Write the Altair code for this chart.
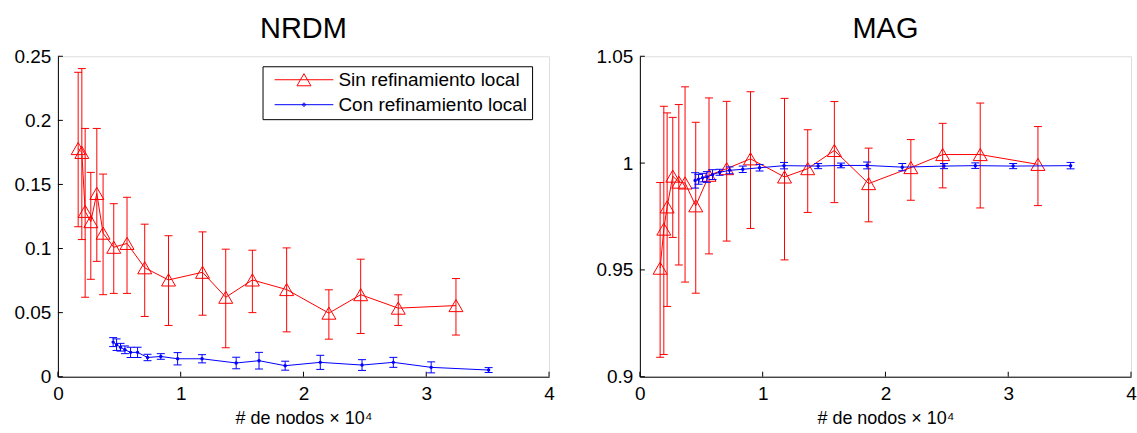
import altair as alt
import pandas as pd

# Número de nodos (en unidades de 10^4) de cada serie
x_sin = [0.165, 0.195, 0.222, 0.268, 0.317, 0.368, 0.455, 0.563, 0.707, 0.901,
         1.178, 1.367, 1.584, 1.863, 2.207, 2.466, 2.772, 3.242]
x_con = [0.45, 0.478, 0.51, 0.546, 0.592, 0.649, 0.73, 0.838, 0.975, 1.174,
         1.452, 1.638, 1.851, 2.137, 2.477, 2.732, 3.04, 3.508]

# NRDM: media y extremos de la barra de error
nrdm_sin = [0.178, 0.175, 0.129, 0.121, 0.143, 0.112, 0.101, 0.104, 0.085, 0.0755,
            0.0815, 0.062, 0.0755, 0.068, 0.0496, 0.064, 0.0535, 0.0555]
nrdm_sin_lo = [0.117, 0.107, 0.062, 0.076, 0.090, 0.064, 0.065, 0.065, 0.047, 0.040,
               0.048, 0.0226, 0.050, 0.035, 0.0293, 0.0337, 0.040, 0.0325]
nrdm_sin_hi = [0.2375, 0.2404, 0.1937, 0.1594, 0.1937, 0.1581, 0.135, 0.140, 0.119, 0.110,
               0.113, 0.0995, 0.0987, 0.1005, 0.0678, 0.0917, 0.0639, 0.0766]
nrdm_con = [0.027, 0.025, 0.023, 0.021, 0.019, 0.019, 0.015, 0.0158, 0.014, 0.014,
            0.0107, 0.0125, 0.0086, 0.0112, 0.0091, 0.0112, 0.0073, 0.0052]
nrdm_con_err = [0.0035, 0.0045, 0.003, 0.003, 0.004, 0.004, 0.0025, 0.0022, 0.0048, 0.0032,
                0.0045, 0.0065, 0.0035, 0.0055, 0.0042, 0.0039, 0.0043, 0.0019]

# MAG: media y extremos de la barra de error
mag_sin = [0.9508, 0.9691, 0.9795, 0.9939, 0.9911, 0.9907, 0.9800, 0.9943, 0.9974, 1.002,
           0.9935, 0.9974, 1.0059, 0.9904, 0.9979, 1.004, 1.004, 0.9994]
mag_sin_lo = [0.9091, 0.9104, 0.9329, 0.9652, 0.9523, 0.9443, 0.9391, 0.9575, 0.9635, 0.9694,
              0.9547, 0.9769, 0.9815, 0.9725, 0.9826, 0.9884, 0.979, 0.9801]
mag_sin_hi = [0.9909, 1.0266, 1.0235, 1.0214, 1.0274, 1.0357, 1.0191, 1.0305, 1.0289, 1.0334,
              1.0303, 1.0156, 1.0288, 1.007, 1.011, 1.0186, 1.0281, 1.0171]
mag_con = [0.9919, 0.9924, 0.9932, 0.9935, 0.9946, 0.9957, 0.9966, 0.9971, 0.9978, 0.9988,
           0.9986, 0.9989, 0.9989, 0.9981, 0.9986, 0.9988, 0.9986, 0.9988]
mag_con_err = [0.0036, 0.0023, 0.002, 0.0025, 0.0023, 0.0014, 0.0016, 0.0015, 0.0015, 0.0015,
               0.0012, 0.0011, 0.0016, 0.0017, 0.0012, 0.0013, 0.0012, 0.0015]

x_ticks = [0, 1, 2, 3, 4]
nrdm_ticks = [0, 0.05, 0.1, 0.15, 0.2, 0.25]
mag_ticks = [0.9, 0.95, 1, 1.05]

series = ["Sin refinamiento local", "Con refinamiento local"]
colors = ["#ff0000", "#0000ff"]

FONT = "Liberation Sans"
W, H = 492, 321
TICK = 5  # longitud de las marcas de graduación (hacia dentro)

# Símbolos de la leyenda: segmento de línea con el marcador en el centro
legend_shapes = [
    "M-4.2,0H4.2M0,-0.866L-1,0.866L1,0.866Z",
    "M-4.2,0H4.2M-0.22,0A0.22,0.22,0,1,1,0.22,0A0.22,0.22,0,1,1,-0.22,0"
    "M-0.08,0A0.08,0.08,0,1,1,0.08,0A0.08,0.08,0,1,1,-0.08,0",
]


def panel(name, y_ticks, sin_y, sin_lo, sin_hi, con_y, con_err, with_legend):
    sin_df = pd.DataFrame({"x": x_sin, "y": sin_y, "lo": sin_lo, "hi": sin_hi})
    con_df = pd.DataFrame({
        "x": x_con,
        "y": con_y,
        "lo": [v - e for v, e in zip(con_y, con_err)],
        "hi": [v + e for v, e in zip(con_y, con_err)],
    })

    x_scale = alt.Scale(domain=[x_ticks[0], x_ticks[-1]], nice=False, zero=False)
    y_scale = alt.Scale(domain=[y_ticks[0], y_ticks[-1]], nice=False, zero=False)
    x_axis = alt.Axis(
        values=x_ticks, format="~g", title="# de nodos × 10⁴", ticks=False, grid=False,
        domainColor="black", domainWidth=1, labelPadding=8, labelFlush=False,
        labelFont=FONT, labelFontSize=19, labelColor="black",
        titleFont=FONT, titleFontSize=18, titleFontWeight="normal", titleColor="black",
        titlePadding=6,
    )
    y_axis = alt.Axis(
        values=y_ticks, format="~g", title=None, ticks=False, grid=False,
        domainColor="black", domainWidth=1, labelPadding=7, labelFlush=False,
        labelFont=FONT, labelFontSize=19, labelColor="black",
    )

    def X(f="x"):
        return alt.X(f"{f}:Q", scale=x_scale, axis=x_axis)

    def Y(f="y"):
        return alt.Y(f"{f}:Q", scale=y_scale, axis=y_axis)

    layers = []
    for df, color, is_sin in ((sin_df, colors[0], True), (con_df, colors[1], False)):
        base = alt.Chart(df)
        layers.append(base.mark_rule(color=color, strokeWidth=1).encode(x=X(), y=Y("lo"), y2="hi:Q"))
        for end in ("lo", "hi"):
            layers.append(
                base.mark_rule(color=color, strokeWidth=1, xOffset=-4, x2Offset=4)
                .encode(x=X(), x2="x:Q", y=Y(end))
            )
        layers.append(base.mark_line(color=color, strokeWidth=1).encode(x=X(), y=Y()))
        if is_sin:
            layers.append(
                base.mark_point(shape="triangle-up", size=196, filled=False, color=color,
                                strokeWidth=1, opacity=1)
                .encode(x=X(), y=Y())
            )
        else:
            layers.append(
                base.mark_circle(size=12, color=color, opacity=1).encode(x=X(), y=Y())
            )

    # Marcas de graduación hacia dentro
    layers.append(
        alt.Chart(pd.DataFrame({"y": y_ticks})).mark_rule(color="black", strokeWidth=1)
        .encode(y=Y(), x=alt.value(0), x2=alt.value(TICK))
    )
    layers.append(
        alt.Chart(pd.DataFrame({"x": x_ticks})).mark_rule(color="black", strokeWidth=1)
        .encode(x=X(), y=alt.value(H), y2=alt.value(H - TICK))
    )

    if with_legend:
        leg = alt.Legend(
            title=None, orient="none", legendX=205, legendY=10,
            strokeColor="black", fillColor="white", padding=4,
            labelFont=FONT, labelFontSize=19, labelColor="black", labelLimit=400,
            symbolSize=196, symbolStrokeWidth=1, symbolOpacity=1,
            symbolOffset=28, labelOffset=25, rowPadding=5,
        )
        layers.append(
            alt.Chart(pd.DataFrame({"serie": series})).mark_point(opacity=0, filled=False)
            .encode(
                color=alt.Color("serie:N", scale=alt.Scale(domain=series, range=colors), legend=leg),
                shape=alt.Shape("serie:N", scale=alt.Scale(domain=series, range=legend_shapes), legend=leg),
                x=alt.value(0), y=alt.value(0),
            )
        )

    return alt.layer(*layers).properties(
        width=W, height=H,
        title=alt.Title(name, font=FONT, fontSize=29, fontWeight="normal", color="black", offset=3),
    )


left = panel("NRDM", nrdm_ticks, nrdm_sin, nrdm_sin_lo, nrdm_sin_hi, nrdm_con, nrdm_con_err, True)
right = panel("MAG", mag_ticks, mag_sin, mag_sin_lo, mag_sin_hi, mag_con, mag_con_err, False)

chart = (
    alt.hconcat(left, right, spacing=40)
    .properties(padding={"left": 13, "top": 14, "right": 0, "bottom": 0})
    .configure_view(stroke=None)
    .configure(background="white")
)

chart.save("out.html", embed_options={"renderer": "svg", "actions": False})
